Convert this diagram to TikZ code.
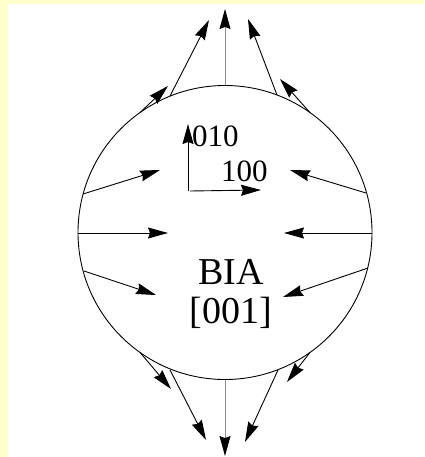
\documentclass[tikz,border=0pt]{standalone}
\usepackage{fontspec}
\setmainfont{Liberation Serif}
\usetikzlibrary{arrows.meta}
\definecolor{bgyellow}{RGB}{255,255,204}
\tikzset{
  arr/.style={line width=0.9pt, -{Stealth[length=20pt,width=11pt,inset=2pt]}},
  garr/.style={arr, draw=black!45, arrows={-{Stealth[length=20pt,width=11pt,inset=2pt,color=black]}}},
  lbl/.style={inner sep=0pt, font=\fontsize{31}{34}\selectfont},
  big/.style={inner sep=0pt, font=\fontsize{38}{40}\selectfont}
}
\begin{document}
\begin{tikzpicture}[x=1pt,y=-1pt]
\fill[bgyellow] (0,0) rectangle (424,457);
\fill[white] (8,4) rectangle (424,457);
\useasboundingbox (0,0) rectangle (424,457);
% circle
\coordinate (c) at (225,232.5);
\draw[line width=0.9pt] (c) circle[radius=147];
% top / bottom vertical
\coordinate (t0) at (225,85.5); \coordinate (t1) at (225,9);
\coordinate (b0) at (225,379.5); \coordinate (b1) at (225,456);
\draw[garr] (t0) -- (t1);
\draw[garr] (b0) -- (b1);
\draw[line width=0.9pt] (219,85.6) -- (231,85.6);
\draw[line width=0.9pt] (219,379.4) -- (231,379.4);
% oblique outward
\coordinate (tl0) at (170,96); \coordinate (tl1) at (209,20);
\coordinate (tr0) at (277,95); \coordinate (tr1) at (248,19);
\coordinate (bl0) at (170,370); \coordinate (bl1) at (206,440);
\coordinate (br0) at (278,370); \coordinate (br1) at (245,442);
\draw[arr] (tl0) -- (tl1);
\draw[arr] (tr0) -- (tr1);
\draw[arr] (bl0) -- (bl1);
\draw[arr] (br0) -- (br1);
% tangent short
\coordinate (ta0) at (140,112.6); \coordinate (ta1) at (168,86);
\coordinate (tb0) at (310,112.6); \coordinate (tb1) at (280,79);
\coordinate (tc0) at (140,352.4); \coordinate (tc1) at (171,389);
\coordinate (td0) at (310,352.4); \coordinate (td1) at (287,382);
\draw[arr] (ta0) -- (ta1);
\draw[arr] (tb0) -- (tb1);
\draw[arr] (tc0) -- (tc1);
\draw[arr] (td0) -- (td1);
% side inward
\coordinate (l0) at (78,233); \coordinate (l1) at (168,233);
\coordinate (lu0) at (83,194); \coordinate (lu1) at (160,170);
\coordinate (ld0) at (84,271); \coordinate (ld1) at (156,295);
\coordinate (r0) at (372,233); \coordinate (r1) at (284,233);
\coordinate (ru0) at (366,193); \coordinate (ru1) at (290,170);
\coordinate (rd0) at (368,268); \coordinate (rd1) at (283,297);
\draw[arr] (l0) -- (l1);
\draw[arr] (lu0) -- (lu1);
\draw[arr] (ld0) -- (ld1);
\draw[arr] (r0) -- (r1);
\draw[arr] (ru0) -- (ru1);
\draw[arr] (rd0) -- (rd1);
% axes
\coordinate (o) at (188,191);
\coordinate (ay) at (188,124);
\coordinate (ax) at (261,190);
\draw[arr] (o) -- (ay);
\draw[arr] ([xshift=2pt]o) -- (ax);
\node[lbl, anchor=west] (n010) at (192,136) {010};
\node[lbl, anchor=west] (n100) at (221,171) {100};
\node[big] (bia) at (231,272) {BIA};
\node[big] (dir) at (231,313) {[001]};
\end{tikzpicture}
\end{document}
